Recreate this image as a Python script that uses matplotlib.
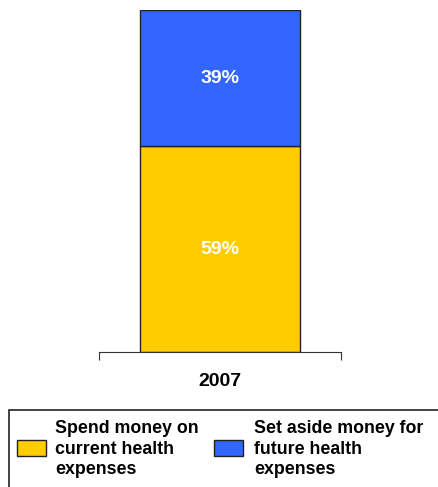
import matplotlib
matplotlib.use("Agg")
import matplotlib.pyplot as plt
from matplotlib.patches import Rectangle

categories = ["2007"]
series_names = ["Spend money on\ncurrent health\nexpenses", "Set aside money for\nfuture health\nexpenses"]
current_vals = [59]
future_vals = [39]
colors = ["#FFCC00", "#3366FF"]

plt.rcParams['font.family'] = ['Liberation Sans', 'DejaVu Sans']
W, H = 439, 487
fig = plt.figure(figsize=(W / 100, H / 100), dpi=100)
ax = fig.add_axes([99 / W, 1 - 352 / H, (341 - 99) / W, (352 - 10) / H])

x = list(range(len(categories)))
b1 = ax.bar(x, current_vals, width=0.665, color=colors[0], edgecolor="#222222", linewidth=1.0)
b2 = ax.bar(x, future_vals, bottom=current_vals, width=0.665, color=colors[1], edgecolor="#222222", linewidth=1.0)
for xi, v in zip(x, current_vals):
    ax.text(xi, v / 2, f"{v}%", ha="center", va="center", color="white", fontsize=14, fontweight="bold")
for xi, v, b in zip(x, future_vals, current_vals):
    ax.text(xi, b + v / 2, f"{v}%", ha="center", va="center", color="white", fontsize=14, fontweight="bold")

ax.set_xlim(-0.5, 0.5)
ax.set_ylim(0, 98)
for s in ["top", "right", "left"]:
    ax.spines[s].set_visible(False)
ax.spines["bottom"].set_color("#333333")
ax.set_yticks([])
ax.set_xticks([-0.5, 0.5])
ax.set_xticklabels(["", ""])
ax.tick_params(axis="x", direction="out", length=6, color="#333333")
for xi, c in zip(x, categories):
    ax.text(xi, -0.085, c, transform=ax.get_xaxis_transform(), ha="center", va="center",
            fontsize=14, fontweight="bold")

# legend box
fig.patches.append(Rectangle((9 / W, -0.1), 1.0, 1 - 410 / H + 0.1, transform=fig.transFigure,
                             fill=False, edgecolor="#222222", linewidth=1.2))
leg_x = [17, 214]
txt_x = [55, 254]
for lx, tx, c, name in zip(leg_x, txt_x, colors, series_names):
    fig.patches.append(Rectangle((lx / W, 1 - 456 / H), 29 / W, 16 / H, transform=fig.transFigure,
                                 facecolor=c, edgecolor="#222222", linewidth=1.0))
    fig.text(tx / W, 1 - 449 / H, name, ha="left", va="center", fontsize=12.8, fontweight="bold",
             linespacing=1.27)

fig.savefig("out.png", dpi=100)
